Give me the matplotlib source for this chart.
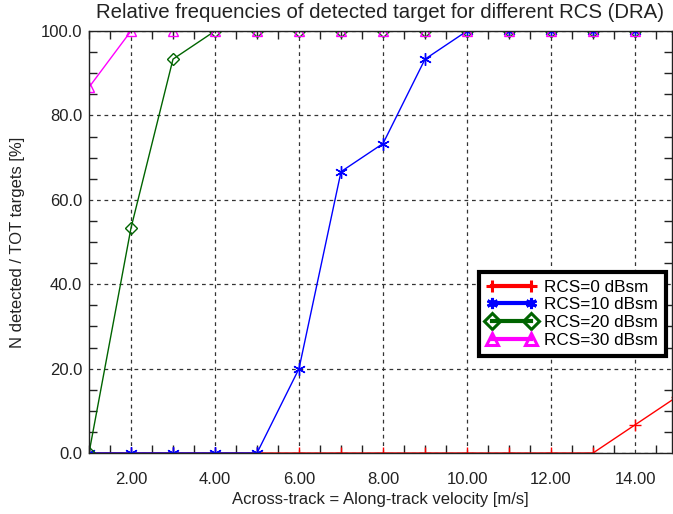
import numpy as np
import matplotlib
matplotlib.use('Agg')
import matplotlib.pyplot as plt
from matplotlib.lines import Line2D
from matplotlib.ticker import MultipleLocator, FormatStrFormatter

plt.rcParams['font.family'] = ['Liberation Sans', 'DejaVu Sans']

# # data
velocity = [1, 2, 3, 4, 5, 6, 7, 8, 9, 10, 11, 12, 13, 14, 15]
rcs_0 = [0, 0, 0, 0, 0, 0, 0, 0, 0, 0, 0, 0, 0, 6.67, 13.33]
rcs_10 = [0, 0, 0, 0, 0, 20.0, 66.67, 73.33, 93.33, 100, 100, 100, 100, 100, 100]
rcs_20 = [0, 53.33, 93.33, 100, 100, 100, 100, 100, 100, 100, 100, 100, 100, 100, 100]
rcs_30 = [86.67, 100, 100, 100, 100, 100, 100, 100, 100, 100, 100, 100, 100, 100, 100]

labels = ['RCS=0 dBsm', 'RCS=10 dBsm', 'RCS=20 dBsm', 'RCS=30 dBsm']
series = [rcs_0, rcs_10, rcs_20, rcs_30]
colors = ['#ff0000', '#0000ff', '#006400', '#ff00ff']
markers = ['+', (6, 2, 0), 'D', '^']
msizes = [9, 9, 6, 7]

fig = plt.figure(figsize=(6.73, 5.14), dpi=100)
ax = fig.add_axes([89 / 673, 1 - 453 / 514, 583 / 673, 422 / 514])

for vals, col, mk, ms in zip(series, colors, markers, msizes):
    ax.plot(velocity, vals, color=col, lw=1.0, marker=mk, ms=ms,
            mfc='none', mec=col, mew=1.0)

ax.set_xlim(1, 14.88)
ax.set_ylim(0, 100)

ax.xaxis.set_major_locator(MultipleLocator(2))
ax.xaxis.set_minor_locator(MultipleLocator(0.5))
ax.yaxis.set_major_locator(MultipleLocator(20))
ax.yaxis.set_minor_locator(MultipleLocator(5))
ax.xaxis.set_major_formatter(FormatStrFormatter('%.2f'))
ax.yaxis.set_major_formatter(FormatStrFormatter('%.1f'))

ax.tick_params(which='both', direction='in', top=True, right=True, colors='#222222')
ax.tick_params(which='major', length=0, labelsize=12)
ax.tick_params(axis='x', which='major', pad=14)
ax.tick_params(axis='y', which='major', pad=5)
ax.tick_params(which='minor', length=6, width=1)

ax.grid(True, which='major', color='#333333', linestyle=(0, (3, 3)), lw=0.9)
ax.set_axisbelow(True)
for sp in ax.spines.values():
    sp.set_color('#222222')
    sp.set_linewidth(1.0)

ax.set_title('Relative frequencies of detected target for different RCS (DRA)',
             fontsize=14.7, color='#222222', pad=9)
ax.set_xlabel('Across-track = Along-track velocity [m/s]', fontsize=12, color='#222222', labelpad=3)
ax.set_ylabel('N detected / TOT targets [%]', fontsize=12, color='#222222', labelpad=11)

handles = [Line2D([], [], color=c, lw=3, marker=m, ms=8, mfc='none', mec=c, mew=2.2)
           for c, m in zip(colors, markers)]
leg = ax.legend(handles, labels, loc='upper left', bbox_to_anchor=(0.669, 0.429),
                borderaxespad=0, numpoints=2, fancybox=False, framealpha=1,
                edgecolor='black', fontsize=12.3, handlelength=2.9, handletextpad=0.45,
                labelspacing=0.16, borderpad=0.45)
leg.get_frame().set_linewidth(3)

fig.savefig('out.png', dpi=100)
plt.close(fig)
